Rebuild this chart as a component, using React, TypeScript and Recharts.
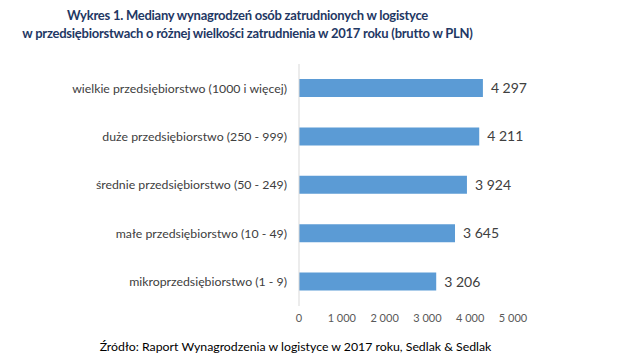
import { BarChart, Bar, XAxis, YAxis, LabelList } from "recharts";

const categories = [
  "wielkie przedsiębiorstwo (1000 i więcej)",
  "duże przedsiębiorstwo (250 - 999)",
  "średnie przedsiębiorstwo (50 - 249)",
  "małe przedsiębiorstwo (10 - 49)",
  "mikroprzedsiębiorstwo (1 - 9)",
];
const medians = [4297, 4211, 3924, 3645, 3206];
const xTicks = [0, 1000, 2000, 3000, 4000, 5000];

const titleLines = [
  "Wykres 1. Mediany wynagrodzeń osób zatrudnionych w logistyce",
  "w przedsiębiorstwach o różnej wielkości zatrudnienia w 2017 roku (brutto w PLN)",
];
const sourceNote = "Źródło: Raport Wynagrodzenia w logistyce w 2017 roku, Sedlak & Sedlak";

const fmt = (v: number) => String(v).replace(/\B(?=(\d{3})+(?!\d))/g, " ");

const data = categories.map((name, i) => ({ name, value: medians[i] }));

const App = () => {
  return (
    <div
      style={{
        position: "absolute",
        top: 0,
        left: 0,
        width: 635,
        height: 362,
        background: "#fff",
        overflow: "hidden",
        fontFamily: "Lato, 'Open Sans', sans-serif",
      }}
    >
      {/* title */}
      <div
        style={{
          position: "absolute",
          top: 6,
          left: -100,
          width: 695,
          textAlign: "center",
          whiteSpace: "nowrap",
          color: "#1F3864",
          fontWeight: 700,
          fontSize: 13,
          letterSpacing: -0.25,
          lineHeight: "18px",
        }}
      >
        {titleLines.map((t) => (
          <div key={t}>{t}</div>
        ))}
      </div>

      <div style={{ position: "absolute", top: 0, left: 0 }}>
        <BarChart
          layout="vertical"
          width={635}
          height={340}
          data={data}
          margin={{ top: 64, right: 122, bottom: 4, left: 0 }}
          barCategoryGap={30}
        >
          <XAxis
            type="number"
            domain={[0, 5000]}
            ticks={xTicks}
            tickFormatter={fmt}
            axisLine={false}
            tickLine={false}
            tick={{ fill: "#595959", fontSize: 11 }}
            height={30}
          />
          <YAxis
            type="category"
            dataKey="name"
            width={299}
            axisLine={{ stroke: "#D9D9D9" }}
            tickLine={false}
            tick={{ fill: "#404040", fontSize: 12.3 }}
            tickMargin={6}
          />
          <Bar dataKey="value" fill="#5B9BD5" barSize={18} isAnimationActive={false}>
            <LabelList
              dataKey="value"
              position="right"
              offset={8}
              formatter={(v: any) => fmt(Number(v))}
              style={{ fill: "#404040", fontSize: 14 }}
            />
          </Bar>
        </BarChart>
      </div>

      <div
        style={{
          position: "absolute",
          top: 339,
          left: 0,
          width: 591,
          textAlign: "center",
          whiteSpace: "nowrap",
          color: "#000",
          fontSize: 12.3,
        }}
      >
        {sourceNote}
      </div>
    </div>
  );
};

export default App;
